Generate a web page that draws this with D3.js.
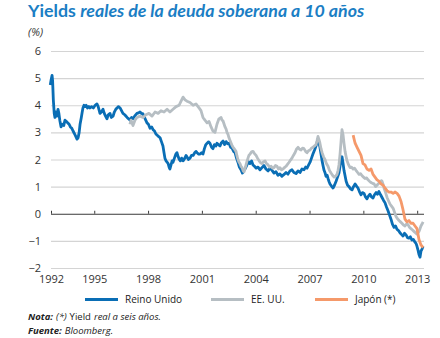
<!DOCTYPE html>
<html><head><meta charset="utf-8">
<script src="https://cdn.jsdelivr.net/npm/d3@7"></script>
<style>
body{margin:0;background:#fff;}
svg{display:block;font-family:"Open Sans","Noto Sans",sans-serif;}
</style></head>
<body><svg id="c" width="440" height="338"></svg>
<script>
// ---- data (decimal year, real yield %) ----
const ukYears = [1992.55,1992.60,1992.65,1992.68,1992.72,1992.77,1992.81,1992.86,1992.92,1992.98,1993.03,1993.08,1993.15,1993.22,1993.30,1993.37,1993.45,1993.52,1993.60,1993.67,1993.75,1993.82,1993.90,1993.97,1994.04,1994.10,1994.16,1994.21,1994.28,1994.33,1994.37,1994.43,1994.49,1994.55,1994.62,1994.70,1994.76,1994.85,1994.95,1995.05,1995.15,1995.22,1995.28,1995.32,1995.40,1995.49,1995.56,1995.63,1995.71,1995.78,1995.88,1995.95,1996.05,1996.12,1996.20,1996.27,1996.35,1996.44,1996.52,1996.60,1996.70,1996.83,1996.92,1996.99,1997.08,1997.16,1997.25,1997.38,1997.47,1997.55,1997.63,1997.72,1997.80,1997.87,1997.94,1998.02,1998.11,1998.20,1998.28,1998.36,1998.43,1998.50,1998.58,1998.67,1998.75,1998.83,1998.89,1998.94,1999.00,1999.06,1999.12,1999.18,1999.22,1999.28,1999.34,1999.39,1999.47,1999.55,1999.61,1999.68,1999.74,1999.80,1999.87,1999.95,2000.05,2000.12,2000.17,2000.25,2000.34,2000.42,2000.51,2000.60,2000.67,2000.73,2000.82,2000.90,2000.98,2001.06,2001.14,2001.22,2001.29,2001.37,2001.45,2001.54,2001.62,2001.70,2001.78,2001.84,2001.92,
2002.01,2002.09,2002.18,2002.26,2002.35,2002.43,2002.51,2002.60,2002.68,2002.77,2002.85,2002.93,2003.01,2003.09,2003.18,2003.26,2003.35,2003.43,2003.51,2003.60,2003.68,2003.77,2003.85,2003.93,2004.02,2004.13,2004.24,2004.35,2004.46,2004.57,2004.69,2004.80,2004.91,2005.02,2005.13,2005.24,2005.35,2005.46,2005.58,2005.69,2005.80,2005.91,2006.02,2006.13,2006.25,2006.36,2006.47,2006.58,2006.69,2006.78,2006.86,2006.95,2007.03,2007.11,2007.19,2007.28,2007.36,2007.42,2007.47,2007.53,2007.58,2007.64,2007.70,2007.76,2007.81,2007.87,2007.92,2007.98,2008.03,2008.09,2008.14,2008.22,2008.31,2008.39,2008.48,2008.56,2008.64,2008.70,2008.76,2008.81,2008.87,2008.92,2008.98,2009.04,2009.12,2009.20,2009.28,2009.37,2009.45,2009.54,2009.62,2009.70,2009.78,2009.87,2009.95,2010.04,2010.12,2010.20,2010.28,2010.37,2010.45,2010.54,2010.62,2010.71,2010.79,2010.87,2010.96,2011.04,2011.12,2011.21,2011.29,2011.38,2011.46,2011.54,2011.62,2011.71,2011.79,2011.88,2011.96,2012.04,2012.12,2012.21,2012.29,2012.38,2012.46,2012.54,2012.62,2012.71,2012.79,2012.88,2012.94,2012.99,2013.05,2013.10,2013.16,2013.21,2013.27,2013.33];
const ukValues = [4.75,4.95,5.1,4.9,4.2,3.7,3.55,3.75,3.6,3.85,3.7,3.45,3.2,3.3,3.25,3.45,3.4,3.35,3.3,3.2,3.15,3.05,2.95,2.85,2.75,2.8,3.0,3.3,3.55,3.75,3.9,4.0,3.95,4.0,3.9,3.95,3.9,3.95,3.9,4.0,4.05,3.95,3.8,3.7,3.75,3.85,3.7,3.6,3.5,3.65,3.7,3.55,3.6,3.75,3.85,3.9,3.95,3.9,3.8,3.7,3.65,3.55,3.5,3.45,3.55,3.5,3.6,3.7,3.72,3.75,3.7,3.68,3.55,3.45,3.35,3.3,3.15,3.2,3.1,3.05,2.95,2.9,2.85,2.8,2.65,2.5,2.25,2.05,1.95,1.9,1.85,1.7,1.65,1.8,1.95,1.9,2.05,2.2,2.25,2.1,2.0,1.95,2.05,1.95,2.05,2.15,2.1,2.0,2.05,2.15,2.15,2.25,2.3,2.25,2.2,2.2,2.25,2.2,2.4,2.55,2.6,2.65,2.6,2.45,2.4,2.55,2.5,2.6,2.55,
2.5,2.62,2.68,2.55,2.66,2.58,2.6,2.45,2.42,2.3,2.25,2.05,1.9,1.72,1.62,1.5,1.6,1.68,1.8,1.92,1.85,1.95,1.8,1.75,1.68,1.72,1.62,1.7,1.78,1.65,1.58,1.68,1.6,1.5,1.55,1.42,1.47,1.38,1.45,1.52,1.46,1.58,1.62,1.52,1.48,1.58,1.52,1.65,1.62,1.72,1.68,1.8,1.9,2.05,2.2,2.35,2.5,2.62,2.75,2.6,2.45,2.2,1.95,1.75,1.6,1.5,1.38,1.42,1.3,1.18,1.1,1.02,0.95,1.05,1.2,1.35,1.5,1.75,2.0,2.1,1.85,1.6,1.4,1.2,1.05,1.0,0.92,0.88,1.0,1.1,1.02,0.95,0.82,0.7,0.78,0.75,0.62,0.55,0.65,0.72,0.62,0.58,0.7,0.78,0.72,0.82,0.7,0.6,0.5,0.4,0.25,0.1,-0.05,-0.2,-0.38,-0.5,-0.45,-0.58,-0.62,-0.7,-0.76,-0.82,-0.72,-0.78,-0.88,-0.9,-0.85,-0.97,-0.95,-1.05,-1.1,-1.2,-1.35,-1.5,-1.6,-1.38,-1.3,-1.2];

const usYears = [1996.99,1997.05,1997.16,1997.27,1997.38,1997.55,1997.72,1997.88,1998.05,1998.22,1998.39,1998.56,1998.72,1998.89,1999.06,1999.22,1999.39,1999.56,1999.73,1999.84,1999.95,2000.06,2000.17,2000.34,2000.51,2000.67,2000.84,2000.95,2001.06,2001.17,2001.29,2001.40,2001.51,2001.62,2001.73,2001.84,2001.95,
2002.07,2002.12,2002.18,2002.24,2002.29,2002.35,2002.40,2002.46,2002.51,2002.57,2002.63,2002.68,2002.74,2002.82,2002.90,2002.96,2003.01,2003.07,2003.12,2003.18,2003.24,2003.30,2003.35,2003.40,2003.46,2003.52,2003.57,2003.62,2003.68,2003.77,2003.85,2003.93,2004.02,2004.10,2004.19,2004.27,2004.35,2004.44,2004.52,2004.60,2004.69,2004.77,2004.86,2004.94,2005.02,2005.10,2005.19,2005.27,2005.35,2005.44,2005.52,2005.60,2005.69,2005.77,2005.86,2005.94,2006.02,2006.10,2006.19,2006.27,2006.36,2006.44,2006.53,2006.61,2006.69,2006.78,2006.86,2006.94,2007.03,2007.11,2007.19,2007.28,2007.36,2007.42,2007.47,2007.52,2007.58,2007.64,2007.70,2007.78,2007.86,2007.94,2008.03,2008.11,2008.20,2008.28,2008.37,2008.45,2008.53,2008.59,2008.64,2008.70,2008.76,2008.81,2008.87,2008.92,2008.98,2009.04,2009.09,2009.18,2009.26,2009.34,2009.43,2009.51,2009.59,2009.68,2009.76,2009.84,2009.93,2010.01,2010.09,2010.18,2010.26,2010.34,2010.43,2010.51,2010.60,2010.68,2010.76,2010.85,2010.93,2011.00,2011.04,2011.10,2011.15,2011.24,2011.32,2011.40,2011.49,2011.57,2011.66,2011.74,2011.82,2011.90,2011.99,2012.07,2012.15,2012.24,2012.32,2012.40,2012.49,2012.57,2012.65,2012.74,2012.82,2012.90,2012.99,2013.05,2013.10,2013.16,2013.21,2013.27,2013.33];
const usValues = [3.3,3.45,3.25,3.45,3.55,3.6,3.55,3.65,3.7,3.6,3.75,3.7,3.8,3.75,3.85,3.75,3.85,3.95,4.0,4.15,4.3,4.2,4.15,4.1,4.0,4.05,3.9,3.8,3.55,3.45,3.35,3.4,3.2,3.05,3.0,3.3,3.5,
3.55,3.45,3.42,3.3,3.2,3.12,3.0,2.92,2.8,2.7,2.6,2.52,2.45,2.38,2.3,2.12,2.0,1.9,1.85,1.75,1.7,1.58,1.55,1.65,1.8,1.95,2.05,2.15,2.2,2.28,2.3,2.22,2.15,2.05,1.95,1.88,1.85,1.92,1.95,1.85,1.8,1.72,1.75,1.68,1.7,1.78,1.75,1.65,1.7,1.62,1.65,1.7,1.75,1.82,1.9,1.98,2.05,2.15,2.25,2.38,2.45,2.38,2.35,2.42,2.4,2.3,2.25,2.32,2.35,2.42,2.45,2.5,2.55,2.7,2.85,2.75,2.6,2.4,2.25,2.1,2.0,1.85,1.75,1.6,1.5,1.42,1.35,1.38,1.45,1.6,1.8,2.2,2.7,3.1,2.9,2.6,2.3,2.1,1.95,1.8,1.7,1.72,1.65,1.68,1.6,1.52,1.45,1.48,1.4,1.35,1.3,1.32,1.25,1.2,1.15,1.12,1.1,1.0,1.05,1.12,1.15,1.22,1.2,1.08,0.95,0.78,0.6,0.48,0.35,0.28,0.2,0.05,-0.1,-0.18,-0.25,-0.3,-0.35,-0.42,-0.45,-0.38,-0.4,-0.5,-0.55,-0.6,-0.65,-0.7,-0.75,-0.7,-0.65,-0.55,-0.45,-0.38,-0.3];

const jpYears = [2009.43,2009.54,2009.65,2009.76,2009.87,2009.98,2010.09,2010.20,2010.32,2010.43,2010.54,2010.65,2010.76,2010.87,2010.98,2011.10,2011.21,2011.32,2011.43,2011.54,2011.66,2011.76,2011.88,2011.99,2012.10,2012.21,2012.32,2012.43,2012.54,2012.65,2012.77,2012.88,2012.99,2013.10,2013.21,2013.33];
const jpValues = [2.9,2.6,2.45,2.3,2.15,1.85,1.8,1.65,1.6,1.65,1.45,1.35,1.25,1.2,1.1,1.05,0.95,0.85,0.8,0.8,0.75,0.8,0.75,0.65,0.45,0.15,-0.2,-0.3,-0.25,-0.35,-0.35,-0.45,-0.55,-0.95,-1.15,-1.25];

const seriesNames = ["Reino Unido","EE. UU.","Japón (*)"];
const xTickYears = [1992,1995,1998,2001,2004,2007,2010,2013];
const yTicks = [-2,-1,0,1,2,3,4,5,6];

// ---- layout ----
const colors = ["#0a6eb5","#b6bec3","#f5996a"];
const xStart = 1992.59, xEnd = 2013.38;
const svg = d3.select("#c");
const x = d3.scaleLinear().domain([xStart,xEnd]).range([51,424]);
const y = d3.scaleLinear().domain([-2,6]).range([268,51]);

// title
const title = svg.append("text").attr("x",28).attr("y",17)
  .attr("fill","#1b7ec4").attr("font-size",17.8).attr("font-weight",700)
  .attr("font-family","Lato, 'Open Sans', sans-serif");
title.append("tspan").text("Yields ");
title.append("tspan").attr("font-style","italic").text("reales de la deuda soberana a 10 años");

svg.append("text").attr("x",28).attr("y",36).attr("font-size",11)
  .attr("font-style","italic").attr("fill","#333").text("(%)");

// y axis with grid
const yAxis = svg.append("g").attr("transform",`translate(51,0)`)
  .call(d3.axisLeft(y).tickValues(yTicks).tickFormat(d3.format("d"))
        .tickSizeInner(-373).tickSizeOuter(0).tickPadding(10));
yAxis.select(".domain").remove();
yAxis.selectAll(".tick line").attr("stroke","#d4d4d4").attr("stroke-width",1.2);
yAxis.selectAll(".tick line").filter(d=>d===0).attr("stroke","#3a3a3a").attr("stroke-width",1);
yAxis.selectAll(".tick text").attr("font-size",11).attr("fill","#333")
  .attr("font-family","'Open Sans', sans-serif");

// x ticks on zero line (pointing up)
const xPos = yr => Math.max(yr, xStart);
const xTickAxis = svg.append("g").attr("transform",`translate(0,${y(0)})`)
  .call(d3.axisBottom(x).tickValues(xTickYears.map(xPos)).tickFormat("")
        .tickSizeInner(-3).tickSizeOuter(0));
xTickAxis.select(".domain").remove();
xTickAxis.selectAll(".tick line").attr("stroke","#3a3a3a");

// x labels at bottom
const xLab = svg.append("g").attr("transform",`translate(0,${y(-2)})`)
  .call(d3.axisBottom(x).tickValues(xTickYears.map(xPos))
        .tickFormat((d,i)=>String(xTickYears[i])).tickSize(0).tickPadding(7));
xLab.select(".domain").remove();
xLab.selectAll(".tick text").attr("font-size",11).attr("fill","#333")
  .attr("font-family","'Open Sans', sans-serif");

// lines
const line = d3.line().x(d=>x(d[0])).y(d=>y(d[1])).curve(d3.curveLinear);
const series = [
  d3.zip(ukYears, ukValues),
  d3.zip(usYears, usValues),
  d3.zip(jpYears, jpValues)
];
series.forEach((s,i)=>{
  svg.append("path").datum(s).attr("d",line).attr("fill","none")
    .attr("stroke",colors[i]).attr("stroke-width",2.8)
    .attr("stroke-linejoin","round");
});

// legend
const legX = [85,211,315];
seriesNames.forEach((n,i)=>{
  svg.append("line").attr("x1",legX[i]).attr("x2",legX[i]+33)
    .attr("y1",299.5).attr("y2",299.5).attr("stroke",colors[i]).attr("stroke-width",3.2);
  svg.append("text").attr("x",legX[i]+40).attr("y",303).attr("font-size",10)
    .attr("fill","#222").text(n);
});

// notes: each run is its own text element placed after the previous one
function runs(yPos, parts){
  let cx = 28;
  parts.forEach(p=>{
    const t = svg.append("text").attr("x",cx).attr("y",yPos).attr("font-size",9.5)
      .attr("fill","#222").attr("font-style",p.i?"italic":"normal")
      .attr("font-weight",p.b?700:400).text(p.t);
    cx += t.node().getComputedTextLength() + (p.sp||3);
  });
}
runs(320,[{t:"Nota:",b:1,i:1},{t:"(*)",i:1},{t:"Yield"},{t:"real a seis años.",i:1}]);
runs(334,[{t:"Fuente:",b:1,i:1},{t:"Bloomberg.",i:1}]);
</script></body></html>
